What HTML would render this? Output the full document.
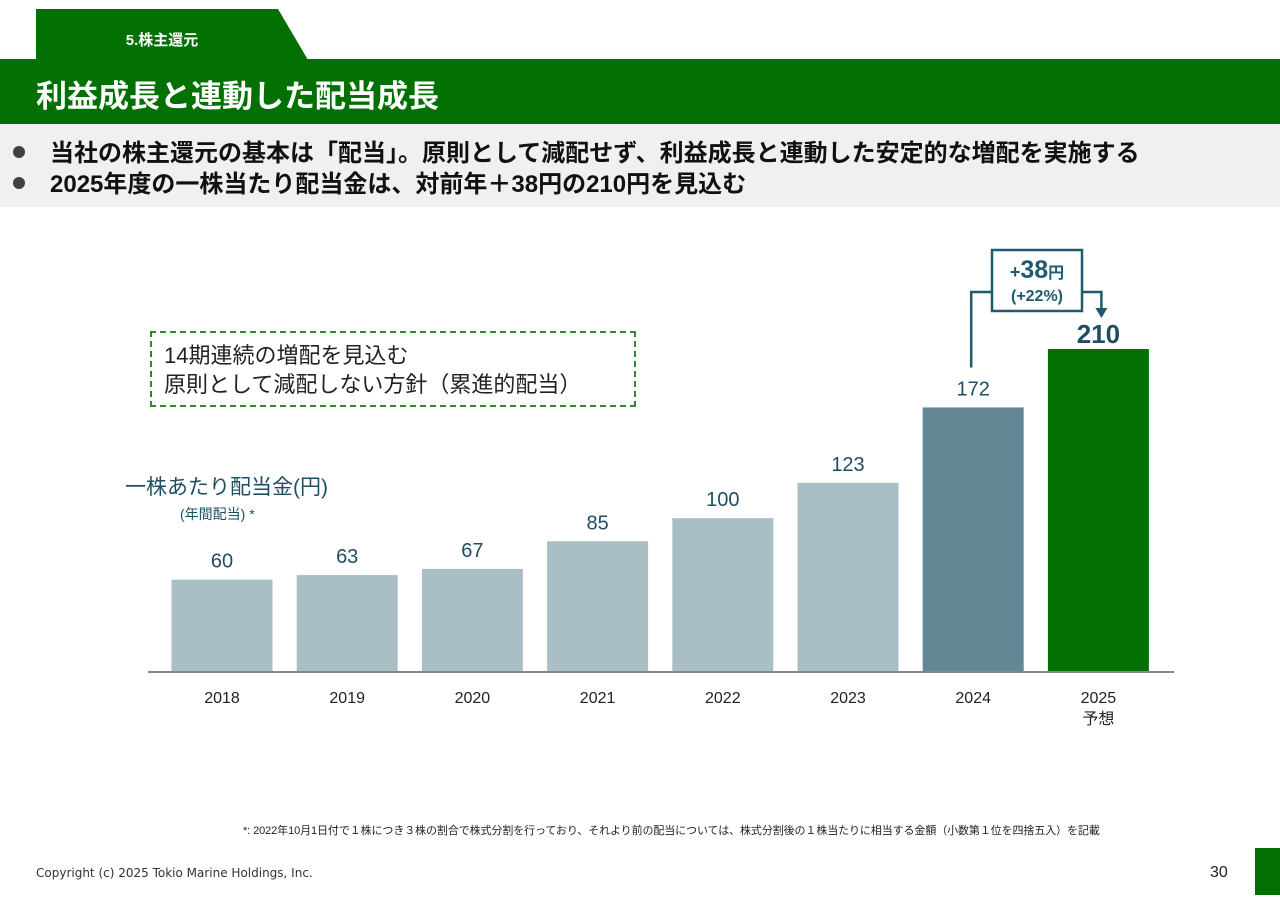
<!DOCTYPE html>
<html><head><meta charset="utf-8"><style>
body{margin:0;width:1280px;height:904px;background:#fff;font-family:"Liberation Sans","Noto Sans CJK JP",sans-serif;position:relative;overflow:hidden}
.abs{position:absolute}
</style></head><body>
<svg class="abs" style="left:0;top:0" width="1280" height="210">
<polygon points="36,9 278,9 308,60 36,60" fill="#037003"/>
<text x="162" y="45" font-size="15" font-weight="bold" fill="#fff" text-anchor="middle" font-family="Liberation Sans,Noto Sans CJK JP,sans-serif">5.株主還元</text>
<rect x="0" y="59" width="1280" height="65" fill="#037003"/>
<text x="36" y="107" font-size="31" font-weight="bold" fill="#fff" font-family="Liberation Sans,Noto Sans CJK JP,sans-serif">利益成長と連動した配当成長</text>
<rect x="0" y="124" width="1280" height="83" fill="#f0f0f0"/>
<circle cx="19" cy="152" r="6" fill="#404040"/><circle cx="19" cy="183" r="6" fill="#404040"/>
<text x="50" y="161" font-size="24" font-weight="bold" fill="#111" font-family="Liberation Sans,Noto Sans CJK JP,sans-serif">当社の株主還元の基本は「配当」。原則として減配せず、利益成長と連動した安定的な増配を実施する</text>
<text x="50" y="192" font-size="24" font-weight="bold" fill="#111" font-family="Liberation Sans,Noto Sans CJK JP,sans-serif">2025年度の一株当たり配当金は、対前年＋38円の210円を見込む</text>
</svg>
<svg id="chart" class="abs" style="left:0;top:210" width="1280" height="560"></svg>
<div class="abs" style="left:150px;top:331px;width:486px;height:76px;border:2px dashed #2e8b2e;font-size:22px;line-height:29px;padding:8px 0 0 12px;box-sizing:border-box;color:#222">14期連続の増配を見込む<br>原則として減配しない方針（累進的配当）</div>
<div class="abs" style="left:125px;top:471px;font-size:21px;color:#1f4e63">一株あたり配当金(円)</div>
<div class="abs" style="left:180px;top:504px;font-size:14px;color:#1f4e63">(年間配当) *</div>
<div class="abs" style="left:243px;top:822px;font-size:11px;letter-spacing:-0.1px;color:#222;white-space:nowrap">*: 2022年10月1日付で１株につき３株の割合で株式分割を行っており、それより前の配当については、株式分割後の１株当たりに相当する金額（小数第１位を四捨五入）を記載</div>
<div class="abs" style="left:36px;top:866px;font-size:12px;font-family:'DejaVu Sans',sans-serif;color:#333">Copyright (c) 2025 Tokio Marine Holdings, Inc.</div>
<div class="abs" style="left:1210px;top:864px;font-size:16px;color:#222">30</div>
<div class="abs" style="left:1255px;top:848px;width:25px;height:47px;background:#037003"></div>
<script>
const categories=["2018","2019","2020","2021","2022","2023","2024","2025"];
const values=[60,63,67,85,100,123,172,210];
const colors=["#aabec5","#aabec5","#aabec5","#aabec5","#aabec5","#aabec5","#638794","#037003"];
const svg=document.getElementById('chart');
const NS="http://www.w3.org/2000/svg";
const base=462, scale=323/210;
const x=i=>222+i*125.2;
const y=v=>base-v*scale;
function mk(t,a){const e=document.createElementNS(NS,t);for(const k in a)e.setAttribute(k,a[k]);svg.appendChild(e);return e;}
values.forEach((v,i)=>{
 const r=mk('rect',{x:x(i)-50.5,y:y(v),width:101,height:v*scale,fill:colors[i]});
 
 
 const last=i===values.length-1;
 const t=mk('text',{x:x(i),y:y(v)-(last?6:12),'text-anchor':'middle','font-size':last?26:20,'font-weight':last?'bold':'normal',fill:'#1f4e63','font-family':'Liberation Sans,sans-serif'});
 t.textContent=v;
 
 
 const c=mk('text',{x:x(i),y:base+31,'text-anchor':'middle','font-size':16,fill:'#222','font-family':'Liberation Sans,Noto Sans CJK JP,sans-serif'});
 c.textContent=categories[i];
 
 
});
const s=mk('text',{x:x(7),y:base+52,'text-anchor':'middle','font-size':16,fill:'#222','font-family':'Liberation Sans,Noto Sans CJK JP,sans-serif'});
s.textContent='予想';


const ax=mk('line',{x1:148,x2:1174,y1:base,y2:base,stroke:'#888','stroke-width':2});


const g=document.createElementNS(NS,'g');svg.appendChild(g);


const xl=x(6)-2,xr=x(7)+3;
g.innerHTML=`<polyline points="${xl},${y(172)-40} ${xl},82 992,82" fill="none" stroke="#1f5a6e" stroke-width="2.5"/>
<polyline points="1082,82 ${xr},82 ${xr},100" fill="none" stroke="#1f5a6e" stroke-width="2.5"/>
<polygon points="${xr-6},98 ${xr+6},98 ${xr},108" fill="#1f5a6e"/>
<rect x="992" y="40" width="90" height="61" fill="#fff" stroke="#1f5a6e" stroke-width="2.5"/>
<text x="1037" y="68" text-anchor="middle" fill="#1f5a6e" font-weight="bold" font-family="Liberation Sans,Noto Sans CJK JP,sans-serif"><tspan font-size="18">+</tspan><tspan font-size="25">38</tspan><tspan font-size="16">円</tspan></text>
<text x="1037" y="91" text-anchor="middle" fill="#1f5a6e" font-weight="bold" font-size="16" font-family="Liberation Sans,sans-serif">(+22%)</text>`;
</script>
</body></html>
